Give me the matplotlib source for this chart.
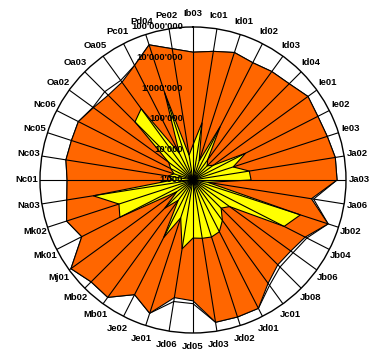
import numpy as np
import matplotlib.pyplot as plt
from matplotlib.transforms import offset_copy

plt.rcParams['font.family'] = ['Liberation Sans', 'DejaVu Sans']

codes = ['Ib03', 'Ic01', 'Id01', 'Id02', 'Id03', 'Id04', 'Ie01', 'Ie02', 'Ie03', 'Ja02',
         'Ja03', 'Ja06', 'Jb02', 'Jb04', 'Jb06', 'Jb08', 'Jc01', 'Jd01', 'Jd02', 'Jd03',
         'Jd05', 'Jd06', 'Je01', 'Je02', 'Mb01', 'Mb02', 'Mj01', 'Mk01', 'Mk02', 'Na03',
         'Nc01', 'Nc03', 'Nc05', 'Nc06', 'Oa02', 'Oa03', 'Oa05', 'Pc01', 'Pd04', 'Pe02']

# outline series (white fill, only its edge shows where it pokes out)
upper = [1.5e7, 1.8e7, 2.4e7, 2.0e7, 2.4e7, 2.8e7, 4.4e7, 3.8e7, 4.1e7, 5.1e7,
         5.1e7, 9.8e6, 4.4e7, 1.5e7, 1.1e7, 1.05e7, 1.8e7, 5.1e7, 5.1e7, 5.1e7,
         1.1e7, 1.05e7, 3.8e7, 1.6e7, 5.5e7, 5.1e7, 8.5e7, 1.2e7, 2.2e7, 1.5e7,
         1.3e7, 1.6e7, 1.5e7, 1.6e7, 1.1e7, 1.2e7, 1.05e7, 1.6e7, 4.4e7, 2.2e7]

orange = [1.5e7, 1.8e7, 2.4e7, 2.0e7, 2.4e7, 2.8e7, 4.4e7, 3.8e7, 4.1e7, 5.1e7,
          5.1e7, 8.3e6, 4.4e7, 1.3e7, 8.9e6, 8.3e6, 1.5e7, 5.1e7, 5.1e7, 5.1e7,
          8.9e6, 7.8e6, 3.8e7, 1.6e7, 5.5e7, 5.1e7, 8.5e7, 1.2e7, 2.2e7, 1.5e7,
          1.3e7, 1.6e7, 1.5e7, 1.6e7, 1.05e7, 8.3e6, 8.9e6, 1.6e7, 4.4e7, 2.2e7]

yellow = [1.4e4, 7.9e4, 4.5e3, 9.1e4, 6.6e3, 4.5e3, 6.6e3, 8.5e4, 2.4e4, 7.3e4,
          7.9e4, 3.1e3, 4.9e6, 2.2e6, 3.0e4, 2.0e4, 4.3e4, 7.9e4, 9.1e4, 8.5e4,
          7.9e4, 1.9e5, 2.0e4, 1.3e5, 6.6e3, 2.0e4, 4.5e3, 4.8e5, 3.5e5, 2.0e6,
          4.5e3, 6.6e3, 4.5e3, 6.6e3, 9.6e3, 4.8e5, 7.6e5, 9.6e3, 1.0e6, 6.6e3]

r_ticks = [1e3, 1e4, 1e5, 1e6, 1e7, 1e8]
r_labels = ["1'000", "10'000", "100'000", "1'000'000", "10'000'000", "100'000'000"]

angles = np.linspace(0, 2 * np.pi, len(codes), endpoint=False)

fig = plt.figure(figsize=(3.72, 3.55), dpi=100)
ax = fig.add_axes([0.1075, 0.062, 0.8226, 0.862], projection='polar')
ax.set_theta_zero_location('N')
ax.set_theta_direction(-1)
ax.set_rscale('log')
ax.set_rlim(1e3, 1e8)

series = [(upper, 'white', 1), (orange, '#FF6600', 1.1), (yellow, '#FFFF00', 1.2)]
for vals, col, z in series:
    poly, = ax.fill(angles, vals, facecolor=col, edgecolor='black', linewidth=0.8, zorder=z)
    poly.get_path()._interpolation_steps = 1  # straight edges between spokes

ax.set_axisbelow(False)
ax.set_thetagrids(np.degrees(angles), codes, fontsize=6.8, fontweight='bold')
ax.tick_params(axis='x', pad=-1)
ax.xaxis.grid(True, color='black', linewidth=0.8)
ax.yaxis.grid(False)
ax.set_yticks([])
ax.spines['polar'].set_color('black')
ax.spines['polar'].set_linewidth(1.0)

lab_tr = offset_copy(ax.transData, fig=fig, x=-10, y=0, units='dots')
for v, s in zip(r_ticks, r_labels):
    ax.text(0, v, s, transform=lab_tr, ha='right', va='center',
            fontsize=6.8, fontweight='bold', zorder=5)

fig.savefig('out.png', dpi=100)
